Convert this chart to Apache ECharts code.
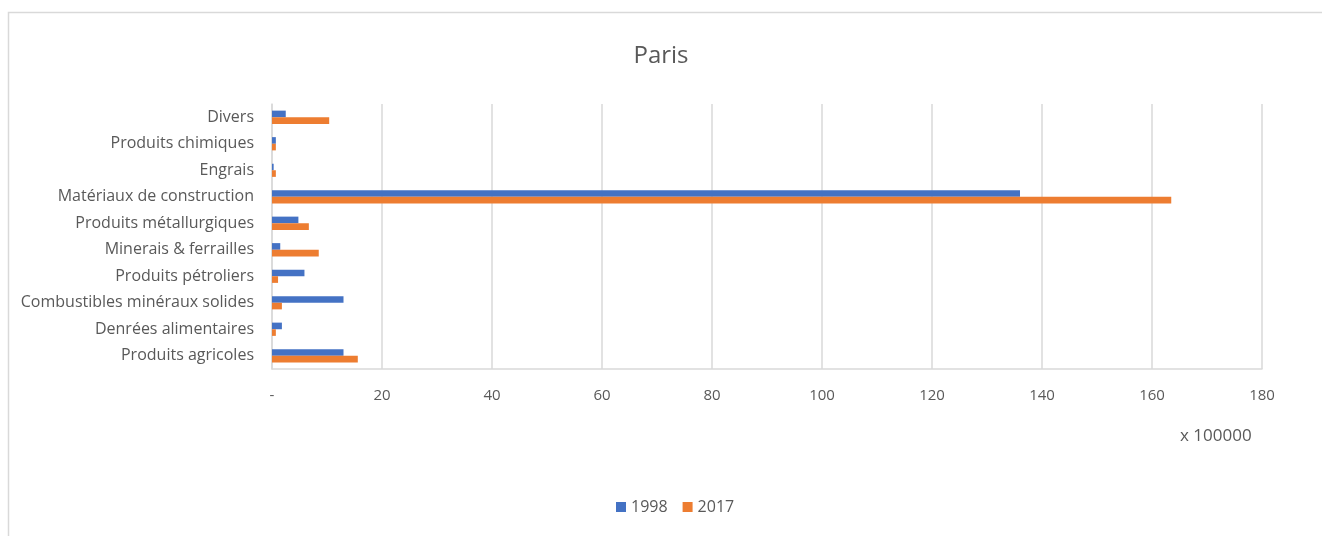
<!DOCTYPE html>
<html><head><meta charset="utf-8">
<script src="https://cdn.jsdelivr.net/npm/echarts@6/dist/echarts.min.js"></script>
<style>html,body{margin:0;padding:0;background:#fff}#c{width:1322px;height:536px}</style>
</head><body><div id="c"></div>
<script>
const categories = ["Produits agricoles","Denrées alimentaires","Combustibles minéraux solides","Produits pétroliers","Minerais & ferrailles","Produits métallurgiques","Matériaux de construction","Engrais","Produits chimiques","Divers"];
const values1998 = [13.0, 1.8, 13.0, 5.9, 1.5, 4.8, 136.0, 0.3, 0.7, 2.5];
const values2017 = [15.6, 0.7, 1.8, 1.1, 8.5, 6.7, 163.5, 0.7, 0.7, 10.4];
const seriesNames = ["1998","2017"];
const tickMin = 0, tickMax = 180, tickStep = 20;
const unitLabel = "x 100000";
const FONT = "Open Sans";
const chart = echarts.init(document.getElementById('c'), null, {renderer:'canvas'});
chart.setOption({
  animation:false,
  textStyle:{fontFamily:FONT},
  title:{text:"Paris", left:'center', top:39, textStyle:{fontFamily:FONT, fontSize:24, fontWeight:'normal', color:'#595959'}},
  graphic:[
    {type:'rect', shape:{x:8.5,y:12.5,width:1330,height:540}, style:{fill:'none', stroke:'#d9d9d9', lineWidth:1.5}, silent:true, z:-1},
    {type:'text', left:1180, top:428, style:{text:unitLabel, fontFamily:FONT, fontSize:17, fill:'#595959'}}
  ],
  legend:{data:seriesNames, bottom:16, left:611, itemWidth:10, itemHeight:10, itemGap:15, icon:'rect', textStyle:{fontFamily:FONT, fontSize:16, color:'#595959'}},
  grid:{left:272, right:60, top:104, bottom:167, containLabel:false},
  xAxis:{type:'value', min:tickMin, max:tickMax, interval:tickStep,
    axisLine:{show:true, lineStyle:{color:'#d9d9d9', width:1.5}},
    axisTick:{show:false},
    splitLine:{show:true, lineStyle:{color:'#d9d9d9', width:1.5}},
    axisLabel:{margin:19, fontFamily:FONT, fontSize:15, color:'#595959', formatter:v=> v===0?'-':String(v)}},
  yAxis:{type:'category', data:categories,
    axisLine:{show:true, lineStyle:{color:'#d9d9d9', width:1.5}},
    axisTick:{show:false},
    axisLabel:{margin:18, fontFamily:FONT, fontSize:16, color:'#595959'}},
  series:[
    {name:seriesNames[0], type:'bar', data:values1998, itemStyle:{color:'#4472C4'}, barGap:'0%', barCategoryGap:'50%'},
    {name:seriesNames[1], type:'bar', data:values2017, itemStyle:{color:'#ED7D31'}, barGap:'0%', barCategoryGap:'50%'}
  ]
});
</script></body></html>
